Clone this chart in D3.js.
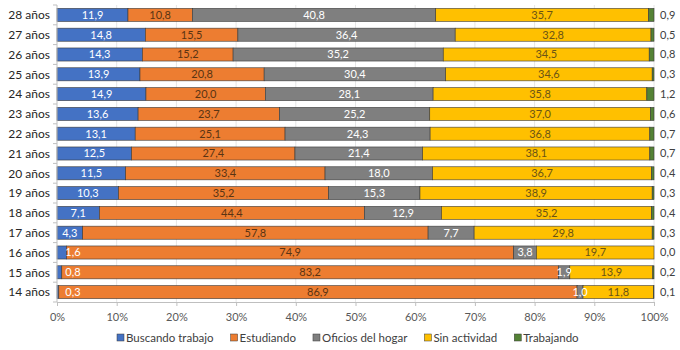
<!DOCTYPE html>
<html>
<head>
<meta charset="utf-8">
<script src="https://cdn.jsdelivr.net/npm/d3@7"></script>
<style>
  body { margin: 0; background: #fff; }
  svg { display: block; font-family: Lato, "Open Sans", sans-serif; }
</style>
</head>
<body>
<div id="chart"></div>
<script>
// categorías (de arriba hacia abajo)
const edades = ["28 años", "27 años", "26 años", "25 años", "24 años", "23 años", "22 años",
  "21 años", "20 años", "19 años", "18 años", "17 años", "16 años", "15 años", "14 años"];

const series = ["Buscando trabajo", "Estudiando", "Oficios del hogar", "Sin actividad", "Trabajando"];

// valores en % por serie, mismo orden que edades
const buscando = [11.9, 14.8, 14.3, 13.9, 14.9, 13.6, 13.1, 12.5, 11.5, 10.3, 7.1, 4.3, 1.6, 0.8, 0.3];
const estudiando = [10.8, 15.5, 15.2, 20.8, 20.0, 23.7, 25.1, 27.4, 33.4, 35.2, 44.4, 57.8, 74.9, 83.2, 86.9];
const oficios = [40.8, 36.4, 35.2, 30.4, 28.1, 25.2, 24.3, 21.4, 18.0, 15.3, 12.9, 7.7, 3.8, 1.9, 1.0];
const sinActividad = [35.7, 32.8, 34.5, 34.6, 35.8, 37.0, 36.8, 38.1, 36.7, 38.9, 35.2, 29.8, 19.7, 13.9, 11.8];
const trabajando = [0.9, 0.5, 0.8, 0.3, 1.2, 0.6, 0.7, 0.7, 0.4, 0.3, 0.4, 0.3, 0.0, 0.2, 0.1];

const xTicks = [0, 0.1, 0.2, 0.3, 0.4, 0.5, 0.6, 0.7, 0.8, 0.9, 1];

const colores = ["#4472C4", "#ED7D31", "#7F7F7F", "#FFC000", "#548235"];
const colorTexto = ["#ffffff", "#5a3413", "#ffffff", "#6b5416", "#404040"];

const width = 680, height = 350;
const valores = [buscando, estudiando, oficios, sinActividad, trabajando];

// armar filas y normalizar al 100%
const filas = edades.map((e, i) => {
  const fila = { edad: e };
  series.forEach((s, j) => fila[s] = valores[j][i]);
  return fila;
});
const filasNorm = filas.map(f => {
  const total = d3.sum(series, s => f[s]);
  const n = { edad: f.edad };
  series.forEach(s => n[s] = f[s] / total);
  return n;
});
const apilado = d3.stack().keys(series)(filasNorm);

const svg = d3.select("#chart").append("svg")
  .attr("width", width)
  .attr("height", height);

const x = d3.scaleLinear().domain([0, 1]).range([57, 654]);
const y = d3.scaleBand().domain(edades).range([5, 302]).paddingInner(0.34).paddingOuter(0.17);

// líneas de cuadrícula
svg.append("g")
  .selectAll("line")
  .data(xTicks.slice(1))
  .enter().append("line")
  .attr("x1", d => x(d)).attr("x2", d => x(d))
  .attr("y1", 5).attr("y2", 302)
  .attr("stroke", "#e6e6e6")
  .attr("stroke-width", 1);

// barras
const grupos = svg.append("g")
  .selectAll("g")
  .data(apilado)
  .enter().append("g")
  .attr("fill", (d, i) => colores[i]);

grupos.selectAll("rect")
  .data(d => d)
  .enter().append("rect")
  .attr("x", d => x(d[0]))
  .attr("y", d => y(d.data.edad))
  .attr("width", d => x(d[1]) - x(d[0]))
  .attr("height", y.bandwidth())
  .attr("stroke", "#3a3a3a")
  .attr("stroke-width", 0.6);

// etiquetas de datos
const fmt = v => v.toFixed(1).replace(".", ",");
apilado.forEach((capa, j) => {
  svg.append("g")
    .selectAll("text")
    .data(capa)
    .enter().append("text")
    .attr("x", d => {
      if (j === 4) return x(1) + 6;
      const ancho = x(d[1]) - x(d[0]);
      if (j === 0 && ancho < 14) return x(d[0]) + 16;
      return (x(d[0]) + x(d[1])) / 2;
    })
    .attr("y", d => y(d.data.edad) + y.bandwidth() / 2)
    .attr("dy", "0.36em")
    .attr("text-anchor", j === 4 ? "start" : "middle")
    .attr("font-size", "11px")
    .attr("fill", colorTexto[j])
    .text((d, i) => fmt(valores[j][i]));
});

// eje Y
const ejeY = svg.append("g")
  .attr("transform", "translate(57,0)");
ejeY.append("line")
  .attr("x1", 0).attr("x2", 0).attr("y1", 5).attr("y2", 302)
  .attr("stroke", "#bfbfbf");
ejeY.selectAll(".tk")
  .data(edades.map(e => y(e) - y.step() * y.paddingInner() / 2).concat([302]))
  .enter().append("line")
  .attr("x1", -4).attr("x2", 0)
  .attr("y1", d => d).attr("y2", d => d)
  .attr("stroke", "#bfbfbf");
ejeY.selectAll("text")
  .data(edades)
  .enter().append("text")
  .attr("x", -7)
  .attr("y", d => y(d) + y.bandwidth() / 2)
  .attr("dy", "0.36em")
  .attr("text-anchor", "end")
  .attr("font-size", "12px")
  .attr("fill", "#262626")
  .text(d => d);

// eje X
const ejeX = svg.append("g")
  .attr("transform", "translate(0,302)")
  .call(d3.axisBottom(x).tickValues(xTicks).tickSize(4).tickFormat(d3.format(".0%")));
ejeX.select(".domain").attr("stroke", "#bfbfbf");
ejeX.selectAll(".tick line").attr("stroke", "#bfbfbf");
ejeX.selectAll("text")
  .attr("y", 11)
  .attr("font-family", "Lato, 'Open Sans', sans-serif")
  .attr("font-size", "11px")
  .attr("fill", "#595959");

// leyenda
const leyenda = svg.append("g").attr("transform", "translate(117,338)");
let lx = 0;
series.forEach((s, i) => {
  const item = leyenda.append("g").attr("transform", `translate(${lx},0)`);
  item.append("rect")
    .attr("x", 0).attr("y", -4)
    .attr("width", 7).attr("height", 7)
    .attr("fill", colores[i])
    .attr("stroke", "#3a3a3a")
    .attr("stroke-width", 0.5);
  const t = item.append("text")
    .attr("x", 9).attr("y", 0)
    .attr("dy", "0.36em")
    .attr("font-size", "11.5px")
    .attr("fill", "#404040")
    .text(s);
  lx += 9 + t.node().getComputedTextLength() + 17;
});
</script>
</body>
</html>
